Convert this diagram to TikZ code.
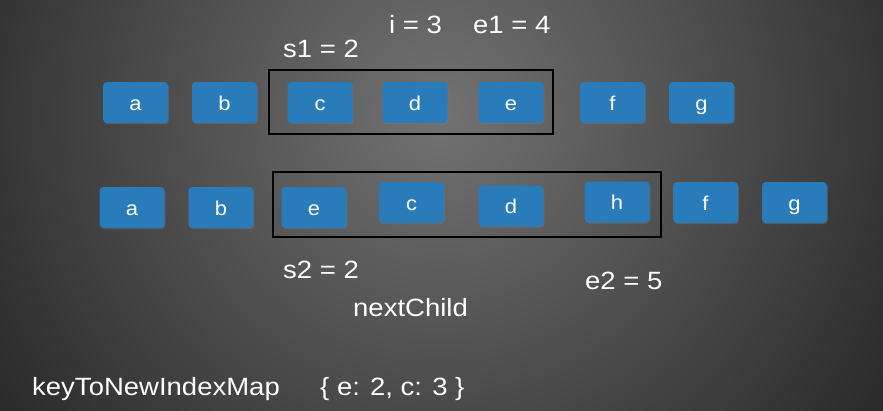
\documentclass[tikz,border=0pt]{standalone}
\usepackage{fontspec}
\setmainfont{Liberation Sans}
\newfontfamily\widesans{Liberation Sans}[FakeStretch=1.1]
\usetikzlibrary{shadows}
\definecolor{boxblue}{HTML}{2A7BBA}
\definecolor{bgin}{HTML}{727272}
\definecolor{bgout}{HTML}{262626}
\tikzset{
  blk/.style={rounded corners=4pt, fill=boxblue, minimum width=65pt, minimum height=41pt,
    text=white, font=\widesans\fontsize{20}{20}\selectfont, inner sep=0pt,
    text height=15pt, text depth=0pt,
    drop shadow={shadow xshift=0.8pt, shadow yshift=-1.2pt, opacity=0.35}},
  frame/.style={draw=black, line width=1.6pt},
  lbl/.style={text=white, font=\widesans\fontsize{25}{25}\selectfont, anchor=base west, inner sep=0pt},
}
\begin{document}
\begin{tikzpicture}[x=1pt,y=-1pt]
\useasboundingbox (0,0) rectangle (883,410);
\begin{scope}
\clip (0,0) rectangle (883,410);
\shade[inner color=bgin, outer color=bgout] (440,115) circle (560);
\end{scope}
% row 1
\node[blk] (a1) at (135.5,102.5) {a};
\node[blk] (b1) at (224.5,102.5) {b};
\node[blk] (c1) at (320,102.5) {c};
\node[blk] (d1) at (415,102.5) {d};
\node[blk] (e1) at (511,102.5) {e};
\node[blk] (f1) at (612.5,102.5) {f};
\node[blk] (g1) at (701.5,102.5) {g};
% row 2
\node[blk] (a2) at (132,207.5) {a};
\node[blk] (b2) at (221,207.5) {b};
\node[blk] (e2) at (314,207.5) {e};
\node[blk] (c2) at (411.5,202.5) {c};
\node[blk] (d2) at (511,206) {d};
\node[blk] (h2) at (617,202) {h};
\node[blk] (f2) at (705.5,202.5) {f};
\node[blk] (g2) at (794.5,202.5) {g};
% frames
\draw[frame] (269,70) rectangle (553,134);
\draw[frame] (273,172) rectangle (661,237);
% labels
\node[lbl] (li) at (389,33) {i = 3};
\node[lbl] (le1) at (473,33) {e1 = 4};
\node[lbl] (ls1) at (283,57) {s1 = 2};
\node[lbl] (ls2) at (283,278) {s2 = 2};
\node[lbl] (le2) at (585,289) {e2 = 5};
\node[lbl] (lnext) at (353,316) {nextChild};
\node[lbl] (lkey) at (32,395) {keyToNewIndexMap};
\node[lbl] (lmap) at (320,395) {\{ e: 2, c: 3 \}};
\end{tikzpicture}
\end{document}
